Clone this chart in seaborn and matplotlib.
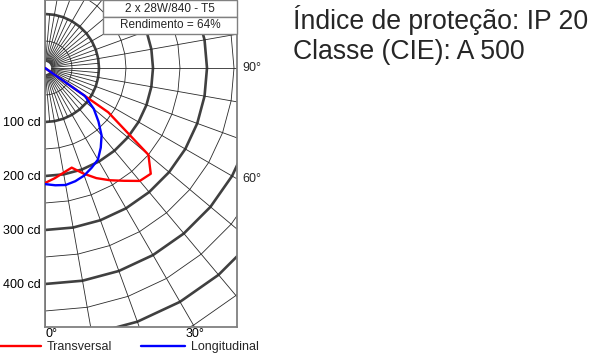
import numpy as np
import pandas as pd
import matplotlib
matplotlib.use("Agg")
import matplotlib.pyplot as plt
import seaborn as sns

# ---- data (gamma angle in degrees from nadir, intensity in cd) ----
angles = [0, 5, 10, 15, 20, 25, 30, 35, 40, 45, 50, 55, 60]
transversal = [213, 205, 197, 191, 208, 225, 240, 255, 273, 277, 250, 143, 0]
longitudinal = [215, 218, 220, 217, 212, 204, 196, 180, 163, 140, 118, 90, 0]
series_names = ["Transversal", "Longitudinal"]
series_colors = ["#ff0000", "#0000ff"]
radius_labels = ["100 cd", "200 cd", "300 cd", "400 cd"]
radius_values = [100, 200, 300, 400]
title_lines = ["2 x 28W/840 - T5", "Rendimento = 64%"]
info_lines = ["Índice de proteção: IP 20", "Classe (CIE): A 500"]

sns.set_theme(style="white")
plt.rcParams["font.family"] = ["Liberation Sans", "DejaVu Sans"]

W, H = 590, 353
fig = plt.figure(figsize=(W / 100, H / 100), dpi=100)
ax = fig.add_axes([45 / W, 26 / H, 192 / W, 327 / H])
S = 0.54  # px per cd
ax.set_xlim(0, 192 / S)
ax.set_ylim(-259 / S, 68 / S)

# polar grid (polygons)
th10 = np.deg2rad(np.arange(0, 181, 10))
for r in range(50, 701, 50):
    thick = r % 100 == 0
    ax.plot(r * np.sin(th10), -r * np.cos(th10), color="#404040" if thick else "#2a2a2a",
            lw=1.9 if thick else 0.6, zorder=1, solid_joinstyle="miter")
for a in range(0, 181, 5):
    r0, r1 = 12, (100 if a % 10 else 800)
    t = np.deg2rad(a)
    ax.plot([r0 * np.sin(t), r1 * np.sin(t)], [-r0 * np.cos(t), -r1 * np.cos(t)],
            color="#2a2a2a", lw=0.6, zorder=1)

# curves
rows = []
for name, vals in zip(series_names, [transversal, longitudinal]):
    for i, (g, v) in enumerate(zip(angles, vals)):
        t = np.deg2rad(g)
        rows.append({"series": name, "order": i, "x": v * np.sin(t), "y": -v * np.cos(t)})
df = pd.DataFrame(rows)
sns.lineplot(data=df, x="x", y="y", hue="series", units="series", estimator=None,
             sort=False, palette=dict(zip(series_names, series_colors)), lw=1.7,
             ax=ax, legend=False, zorder=3)
ax.set_xlabel("")
ax.set_ylabel("")

# axes decoration
for s in ax.spines.values():
    s.set_color("#808080")
    s.set_linewidth(1.3)
ax.set_yticks([-v for v in radius_values])
ax.set_yticklabels(radius_labels)
bottom_30 = (259 / S) * np.tan(np.deg2rad(30))
ax.set_xticks([0, bottom_30])
ax.set_xticklabels(["0°", "30°"])
ax.tick_params(axis="both", length=0, labelsize=9, colors="black", pad=3)
ax.tick_params(axis="x", pad=1)
for lab in ax.get_xticklabels()[:1]:
    lab.set_horizontalalignment("left")
    lab.set_x(-5)
ytr = ax.get_yaxis_transform()
ax.text(1.03, 0, "90°", transform=ytr, va="center", ha="left", fontsize=9)
ax.text(1.03, -(192 / S) / np.tan(np.deg2rad(60)), "60°", transform=ytr,
        va="center", ha="left", fontsize=9)

# title table
tb = ax.table(cellText=[[title_lines[0]], [title_lines[1]]], cellLoc="center",
              bbox=[(103 - 45) / 192, 1 - 34 / 327, (237 - 103) / 192, 34 / 327], zorder=5)
tb.auto_set_font_size(False)
tb.set_fontsize(8.5)
for c in tb.get_celld().values():
    c.set_edgecolor("#808080")
    c.set_linewidth(1.0)
    c.set_facecolor("white")

# legend
handles = [plt.Line2D([], [], color=c, lw=1.7) for c in series_colors]
fig.legend(handles, series_names, loc="center left", bbox_to_anchor=(-0.004, 1 - 347 / H),
           ncol=2, frameon=False, fontsize=9, handlelength=3.5, handletextpad=0.45,
           columnspacing=2.3, borderpad=0, borderaxespad=0)

# info text
fig.text(293 / W, 1 - 29 / H, info_lines[0], fontsize=19.2, va="baseline", ha="left")
fig.text(293 / W, 1 - 59 / H, info_lines[1], fontsize=19.2, va="baseline", ha="left")

fig.savefig("out.png", dpi=100)
